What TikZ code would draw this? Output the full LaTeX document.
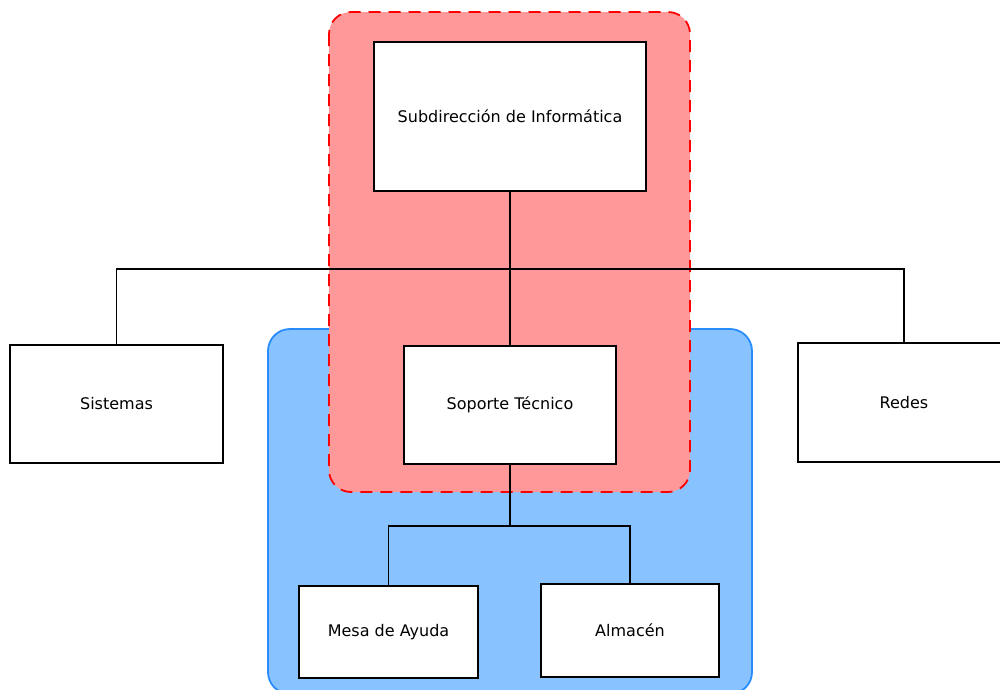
\documentclass[tikz,border=0pt]{standalone}
\usepackage{fontspec}
\setmainfont{DejaVu Sans}
\begin{document}
\begin{tikzpicture}[x=1pt,y=-1pt,
  unit/.style={draw=black,line width=1.8pt,fill=white,rectangle,inner sep=0pt,font=\fontsize{16}{19}\selectfont},
  link/.style={draw=black,line width=1.8pt},
  redzone/.style={draw=red,fill={rgb,255:red,255;green,153;blue,153},line width=1.8pt,dash pattern=on 12pt off 8pt,rounded corners=22pt},
  bluezone/.style={draw={rgb,255:red,40;green,140;blue,255},fill={rgb,255:red,136;green,194;blue,255},line width=1.8pt,rounded corners=22pt}]
\useasboundingbox (0,0) rectangle (1000,689);
\clip (0,0) rectangle (1000,689);
% group areas
\draw[bluezone] (268,329) rectangle (752,694);
\draw[redzone] (329,12) rectangle (690,492);
% units
\node[unit,minimum width=272pt,minimum height=149pt] (sub) at (510,116.5) {Subdirección de Informática};
\node[unit,minimum width=213pt,minimum height=118pt] (sis) at (116.5,404) {Sistemas};
\node[unit,minimum width=212pt,minimum height=118pt] (sop) at (510,405) {Soporte Técnico};
\node[unit,minimum width=212pt,minimum height=119pt] (red) at (904,402.5) {Redes};
\node[unit,minimum width=179pt,minimum height=92pt] (mesa) at (388.5,632) {Mesa de Ayuda};
\node[unit,minimum width=178pt,minimum height=93pt] (alm) at (630,630.5) {Almacén};
% connectors
\coordinate (bus) at (510,269);
\coordinate (bus2) at (510,526);
\draw[link] (sub.south) -- (sop.north);
\draw[link] (sis.north) |- (bus) -| (red.north);
\draw[link] (sop.south) -- (bus2);
\draw[link] (mesa.north) |- (bus2) -| (alm.north);
\end{tikzpicture}
\end{document}
